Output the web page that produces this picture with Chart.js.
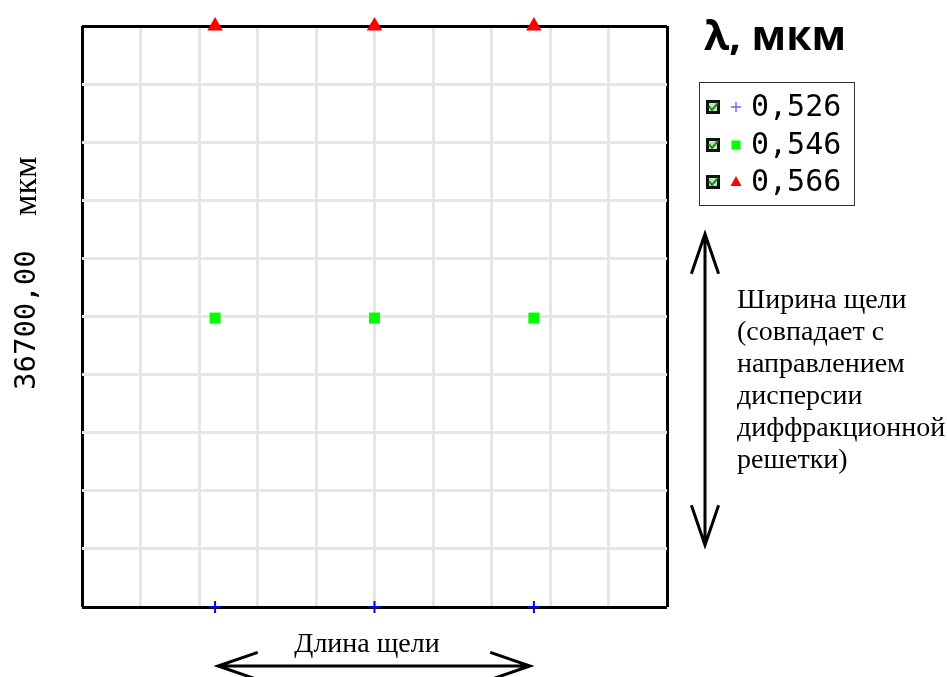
<!DOCTYPE html>
<html>
<head>
<meta charset="utf-8">
<script src="https://cdn.jsdelivr.net/npm/chart.js@4/dist/chart.umd.min.js"></script>
<style>
  html, body { margin: 0; padding: 0; background: #fff; }
  canvas { display: block; }
</style>
</head>
<body>
<canvas id="spotChart" width="947" height="677"></canvas>
<script>
// --- data ---
const wavelengths = ['0,526', '0,546', '0,566'];
const slitLength = [-10000, 0, 10000];     // x positions, мкм
const y526 = [-18350, -18350, -18350];      // bottom edge
const y546 = [-100, -100, -100];            // centre
const y566 = [18350, 18350, 18350];         // top edge
const axisRange = [-18350, 18350];
const axisStep = 3670;

const pts = ys => slitLength.map((x, i) => ({ x: x, y: ys[i] }));

// frame lines black, inner grid light grey
const gridColor = ctx => (ctx.index === 0 || ctx.index === 10) ? '#000000' : '#e6e6e6';

// --- extra drawing: legend, labels, arrows ---
const decorations = {
    id: 'decorations',
    afterDraw(chart) {
        const c = chart.ctx;
        c.save();

        // title over legend
        c.fillStyle = '#000';
        c.font = 'bold 41px "Open Sans"';
        c.textBaseline = 'alphabetic';
        c.textAlign = 'left';
        c.fillText('λ, мкм', 704, 50);

        // legend box
        c.strokeStyle = '#333';
        c.lineWidth = 1;
        c.strokeRect(699.5, 82.5, 155, 123);
        const rowY = [107, 145, 182];
        chart.data.datasets.forEach((ds, i) => {
            const y = rowY[i];
            // checkbox
            c.fillStyle = '#111';
            c.fillRect(706, y - 7, 14, 14);
            c.fillStyle = '#bfe8bf';
            c.fillRect(709, y - 4, 8, 8);
            c.strokeStyle = '#1a8a1a';
            c.lineWidth = 2;
            c.beginPath();
            c.moveTo(709, y - 1);
            c.lineTo(712, y + 3);
            c.lineTo(718, y - 4);
            c.stroke();
            // marker
            const mx = 736;
            if (ds.pointStyle === 'cross') {
                c.strokeStyle = '#6a6aff';
                c.lineWidth = 1.5;
                c.beginPath();
                c.moveTo(mx - 5, y); c.lineTo(mx + 5, y);
                c.moveTo(mx, y - 5); c.lineTo(mx, y + 5);
                c.stroke();
            } else if (ds.pointStyle === 'rect') {
                c.fillStyle = ds.backgroundColor;
                c.fillRect(mx - 4.5, y - 4.5, 9, 9);
            } else {
                c.fillStyle = ds.backgroundColor;
                c.beginPath();
                c.moveTo(mx, y - 6);
                c.lineTo(mx + 5.5, y + 4);
                c.lineTo(mx - 5.5, y + 4);
                c.closePath();
                c.fill();
            }
            c.fillStyle = '#000';
            c.font = '30px "DejaVu Sans Mono"';
            c.textBaseline = 'middle';
            c.fillText(ds.label, 751, y + 1);
        });

        // y axis label (rotated)
        c.save();
        c.translate(27, 390);
        c.rotate(-Math.PI / 2);
        c.textBaseline = 'middle';
        c.textAlign = 'left';
        c.fillStyle = '#000';
        c.font = '29px "DejaVu Sans Mono"';
        c.fillText('36700,00', 0, 0);
        c.font = '34px "Liberation Serif"';
        c.fillText('мкм', 174, 0);
        c.restore();

        // arrows
        const arrow = (x1, y1, x2, y2) => {
            c.beginPath();
            c.moveTo(x1, y1); c.lineTo(x2, y2);
            const a = Math.atan2(y2 - y1, x2 - x1);
            const L = 42, s = 0.33;
            [[x1, y1, a], [x2, y2, a + Math.PI]].forEach(([px, py, ang]) => {
                c.moveTo(px + L * Math.cos(ang + s), py + L * Math.sin(ang + s));
                c.lineTo(px, py);
                c.lineTo(px + L * Math.cos(ang - s), py + L * Math.sin(ang - s));
            });
            c.stroke();
        };
        c.strokeStyle = '#000';
        c.lineWidth = 3;
        arrow(705, 234, 705, 545);
        arrow(218, 666, 530, 666);

        // notes
        c.fillStyle = '#000';
        c.font = '28px "Liberation Serif"';
        c.textBaseline = 'alphabetic';
        c.textAlign = 'left';
        const lines = ['Ширина щели', '(совпадает с', 'направлением', 'дисперсии', 'диффракционной', 'решетки)'];
        lines.forEach((t, i) => c.fillText(t, 737, 308 + i * 32));
        c.textAlign = 'center';
        c.fillText('Длина щели', 367, 652);

        c.restore();
    }
};

new Chart(document.getElementById('spotChart'), {
    type: 'scatter',
    data: {
        datasets: [
            { label: wavelengths[0], data: pts(y526), pointStyle: 'cross', pointRadius: 6, borderColor: '#0000ff', backgroundColor: '#0000ff', pointBorderWidth: 2, clip: false },
            { label: wavelengths[1], data: pts(y546), pointStyle: 'rect', pointRadius: 7.8, borderColor: '#00ff00', backgroundColor: '#00ff00', pointBorderWidth: 0, clip: false },
            { label: wavelengths[2], data: pts(y566), pointStyle: 'triangle', pointRadius: 9, borderColor: '#ff0000', backgroundColor: '#ff0000', pointBorderWidth: 0, clip: false }
        ]
    },
    options: {
        responsive: false,
        animation: false,
        devicePixelRatio: 1,
        layout: { padding: { left: 82, right: 280, top: 26, bottom: 70 } },
        plugins: {
            legend: { display: false },
            tooltip: { enabled: false }
        },
        scales: {
            x: {
                type: 'linear',
                min: axisRange[0], max: axisRange[1],
                ticks: { display: false, stepSize: axisStep },
                grid: { color: gridColor, lineWidth: 3, drawTicks: false },
                border: { display: false }
            },
            y: {
                type: 'linear',
                min: axisRange[0], max: axisRange[1],
                ticks: { display: false, stepSize: axisStep },
                grid: { color: gridColor, lineWidth: 3, drawTicks: false },
                border: { display: false }
            }
        }
    },
    plugins: [decorations]
});
</script>
</body>
</html>
